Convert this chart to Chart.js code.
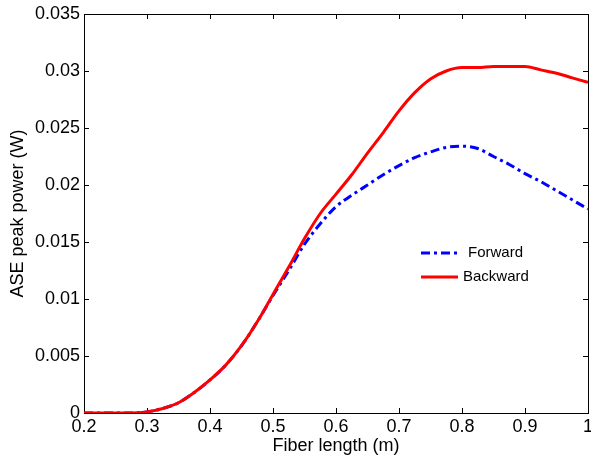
<!DOCTYPE html>
<html><head><meta charset="utf-8">
<script src="https://cdn.jsdelivr.net/npm/chart.js@4.4.1/dist/chart.umd.min.js"></script>
<style>html,body{margin:0;padding:0;background:#fff;} #wrap{width:591px;height:466px;position:relative}</style>
</head><body><div id="wrap"><canvas id="c" width="591" height="466"></canvas></div>
<script>
const fiberLength = [0.2,0.225,0.25,0.275,0.3,0.325,0.35,0.375,0.4,0.425,0.45,0.475,0.5,0.525,0.55,0.575,0.6,0.625,0.65,0.675,0.7,0.725,0.75,0.775,0.8,0.825,0.85,0.875,0.9,0.925,0.95,0.975,1.0];
const backwardPower = [0,0,0,0,0.0001,0.0004,0.0009,0.0018,0.0029,0.0042,0.0059,0.0080,0.0104,0.0128,0.0153,0.0175,0.0192,0.0209,0.0228,0.0246,0.0265,0.0281,0.0293,0.0300,0.0303,0.0303,0.0304,0.0304,0.0304,0.0301,0.0298,0.0294,0.0290];
const forwardPower = [0,0,0,0,0.0001,0.0004,0.0009,0.0018,0.0029,0.0042,0.0059,0.0080,0.0103,0.0125,0.0148,0.0166,0.0181,0.0191,0.0200,0.0209,0.0217,0.0224,0.0229,0.0233,0.0234,0.0232,0.0225,0.0218,0.0210,0.0203,0.0195,0.0187,0.0179];
const seriesNames = ['Forward','Backward'];
const xTickValues = [0.2,0.3,0.4,0.5,0.6,0.7,0.8,0.9,1.0];
const xTickLabels = ['0.2','0.3','0.4','0.5','0.6','0.7','0.8','0.9','1'];
const yTickValues = [0,0.005,0.01,0.015,0.02,0.025,0.03,0.035];
const yTickLabels = ['0','0.005','0.01','0.015','0.02','0.025','0.03','0.035'];
const xTitle = 'Fiber length (m)';
const yTitle = 'ASE peak power (W)';

const FONT = "'Liberation Sans', Arial, Helvetica, sans-serif";
function lab(vals, labels, v){ const i = vals.findIndex(t=>Math.abs(t-v)<1e-9); return i>=0?labels[i]:''; }

const framePlugin = {
  id:'frame',
  beforeDatasetsDraw(chart){
    const {ctx, chartArea:a, scales:{x,y}} = chart;
    ctx.save();
    ctx.strokeStyle='#000'; ctx.lineWidth=1;
    ctx.strokeRect(Math.round(a.left)+0.5, Math.round(a.top)+0.5, Math.round(a.right-a.left), Math.round(a.bottom-a.top));
    ctx.beginPath();
    const L=5;
    xTickValues.forEach(v=>{ const p=Math.round(x.getPixelForValue(v))+0.5;
      ctx.moveTo(p,a.bottom); ctx.lineTo(p,a.bottom-L); ctx.moveTo(p,a.top); ctx.lineTo(p,a.top+L); });
    yTickValues.forEach(v=>{ const p=Math.round(y.getPixelForValue(v))+0.5;
      ctx.moveTo(a.left,p); ctx.lineTo(a.left+L,p); ctx.moveTo(a.right,p); ctx.lineTo(a.right-L,p); });
    ctx.stroke();
    ctx.restore();
  },
  afterDatasetsDraw(chart){
    const {ctx} = chart;
    ctx.save();
    const items = [
      {ds:chart.data.datasets[0], y:253, tx:468},
      {ds:chart.data.datasets[1], y:277, tx:463}
    ];
    items.forEach(it=>{
      ctx.strokeStyle = it.ds.borderColor; ctx.lineWidth = it.ds.borderWidth;
      ctx.setLineDash(it.ds.borderDash||[]);
      ctx.beginPath(); ctx.moveTo(421,it.y); ctx.lineTo(458,it.y); ctx.stroke();
      ctx.setLineDash([]);
      ctx.fillStyle='#000'; ctx.font = '15px '+FONT; ctx.textBaseline='middle'; ctx.textAlign='left';
      ctx.fillText(it.ds.label, it.tx, it.y);
    });
    ctx.restore();
  }
};

new Chart(document.getElementById('c'), {
  type:'line',
  data:{
    datasets:[
      {label:seriesNames[0], data:fiberLength.map((v,i)=>({x:v,y:forwardPower[i]})), borderColor:'#0000ff', borderWidth:3, borderDash:[9,4,3,4], pointRadius:0, cubicInterpolationMode:'monotone', fill:false, order:2},
      {label:seriesNames[1], data:fiberLength.map((v,i)=>({x:v,y:backwardPower[i]})), borderColor:'#ff0000', borderWidth:3, pointRadius:0, cubicInterpolationMode:'monotone', fill:false, order:1}
    ]
  },
  options:{
    responsive:false, animation:false, devicePixelRatio:1,
    layout:{padding:{top:14,right:3,left:0,bottom:0}},
    plugins:{legend:{display:false}, tooltip:{enabled:false}},
    scales:{
      x:{type:'linear', min:0.2, max:1.0,
        afterBuildTicks:s=>{s.ticks = xTickValues.map(v=>({value:v}));},
        afterFit:s=>{s.height=53; s.paddingLeft=0; s.paddingRight=0;},
        grid:{display:false, drawTicks:false}, border:{display:false},
        ticks:{autoSkip:false, maxRotation:0, padding:3, color:'#000', font:{family:FONT,size:18}, callback:v=>lab(xTickValues,xTickLabels,v)},
        title:{display:true, text:xTitle, color:'#000', font:{family:FONT,size:18}, padding:{top:9,bottom:9}}
      },
      y:{type:'linear', min:0, max:0.035,
        afterBuildTicks:s=>{s.ticks = yTickValues.map(v=>({value:v}));},
        afterFit:s=>{s.width=84; s.paddingTop=0; s.paddingBottom=0;},
        grid:{display:false, drawTicks:false}, border:{display:false},
        ticks:{autoSkip:false, padding:4, color:'#000', font:{family:FONT,size:18}, callback:v=>lab(yTickValues,yTickLabels,v)},
        title:{display:true, text:yTitle, color:'#000', font:{family:FONT,size:18}, padding:{top:7,bottom:7}}
      }
    }
  },
  plugins:[framePlugin]
});
</script></body></html>
